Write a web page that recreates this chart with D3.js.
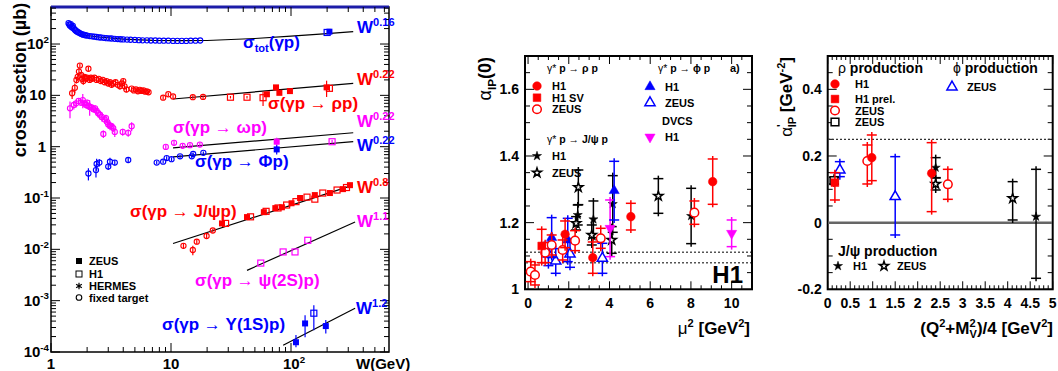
<!DOCTYPE html>
<html><head><meta charset="utf-8">
<script src="https://cdn.jsdelivr.net/npm/d3@7"></script>
<style>body{margin:0;background:#fff;} text{font-family:"Liberation Sans",Arial,Helvetica,sans-serif;}</style>
</head><body><script>
// ---------------- LEFT PANEL DATA (W [GeV], sigma [µb], err) ----------------
const totFT = [[1.40,255],[1.42,240],[1.44,228],[1.46,245],[1.48,218],[1.50,210],[1.52,225],[1.55,200],[1.58,190],[1.61,182],[1.64,176],[1.68,170],[1.72,165],[1.76,160],[1.8,156],[1.85,152],[1.9,150],[1.95,148],[2.0,146],[2.1,143],[2.2,141],[2.3,139],[2.4,137],[2.5,135],[2.6,134],[2.75,132],[2.9,130],[3.05,129],[3.2,128],[3.4,126],[3.6,125],[3.8,124],[4.0,123],[4.3,122],[4.6,121],[5.0,120],[5.4,119],[5.8,118],[6.3,118],[6.8,117],[7.4,117],[8.0,116],[8.7,116],[9.5,116],[10.4,115],[11.3,115],[12.3,115],[13.4,115],[14.6,116],[16,116],[17.5,117]];
const totZEUS = [[209,174]];
const totH1 = [[200,168]];
const totLine = [[1.74,152],[2.5,137],[4,125],[7,118],[12,116],[20,117],[50,128],[100,142],[200,160],[330,174]];

const rhoFT = [[1.50,11,2.5],[1.58,14,3],[1.63,20,3],[1.67,23,4],[1.71,29,5],[1.74,38,4],[1.78,25,3],[1.82,21,3],[1.86,19,3],[1.9,23,3],[1.95,21,2],[2.0,22,2],[2.05,33,3],[2.1,20,2],[2.15,22,2],[2.2,21,2],[2.3,22,2],[2.4,20,2],[2.5,21,2],[2.6,19,2],[2.7,20,2],[2.8,18,2],[2.9,19,2],[3.0,17,2],[3.1,18,2],[3.2,16,2],[3.3,17,2],[3.45,18,2],[3.6,16,2],[3.75,15,2],[3.9,17,2],[4.0,19,2],[4.1,15,2],[4.25,13,1.5],[4.7,13.5,1],[4.9,12.5,1],[5.1,13,1],[5.3,12,1],[5.5,12.8,1],[5.7,12.2,1],[5.9,12.5,1],[6.1,11.8,1],[6.3,12,1],[6.5,11.5,1],[8.6,9.0,0.8],[9.5,10.5,0.8],[10.4,9.5,0.8],[15.2,9.2,0.8],[18.5,9.3,0.8]];
const rhoZEUS = [[63,10.5,0.8],[75,14.3,1],[80,11.2,0.8],[98,12.1,0.8],[198,14.3,5]];
const rhoH1 = [[31.3,9.2,0.5],[43,9.2,0.5],[58.5,9.0,2.8],[209,13.7,1.5]];
const rhoLine = [[10.4,8.5],[330,17.1]];

const omegaFT = [[1.44,5.6,2],[1.55,6.5,1.2],[1.62,7.0,1.2],[1.7,7.8,1],[1.78,7.2,1],[1.84,8.1,2.5],[1.9,7.0,1],[1.96,6.5,1],[2.0,7.2,1],[2.05,6.2,1],[2.1,6.0,2],[2.18,5.8,1],[2.25,5.4,0.8],[2.33,5.6,0.8],[2.4,5.0,0.8],[2.47,4.5,0.8],[2.56,4.2,0.8],[2.65,3.8,0.7],[2.73,1.77,0.3],[2.8,3.4,0.6],[2.87,3.6,0.6],[2.95,3.0,0.5],[3.0,2.7,0.5],[3.1,2.6,0.5],[3.2,2.5,0.4],[3.3,2.3,0.4],[3.4,1.94,0.4],[3.96,1.94,0.3],[4.4,1.86,0.3],[4.7,2.5,0.5],[9.05,0.99,0.1],[10.6,1.19,0.12],[12.5,1.04,0.1],[14.4,1.07,0.1],[17.4,1.1,0.1]];
const omegaZEUS = [[76,1.25,0.25]];
const omegaH1 = [[220,1.25,0.1]];
const omegaLine = [[10.4,0.95],[330,1.87]];

const phiFT = [[2.05,0.30,0.08],[2.37,0.35,0.1],[2.4,0.46,0.12],[2.53,0.49,0.08],[3.0,0.41,0.06],[3.1,0.51,0.1],[3.4,0.49,0.06],[4.4,0.55,0.05],[7.6,0.49,0.04],[8.6,0.51,0.04],[9.2,0.6,0.05],[10.1,0.57,0.05],[11.9,0.65,0.05],[14.9,0.65,0.05],[15.3,0.72,0.05],[18.6,0.76,0.05]];
const phiZEUS = [[76,0.885,0.18]];
const phiLine = [[10.4,0.635],[330,1.25]];

const jpsiFT = [[12.7,0.0117,0.0015],[15.2,0.0097,0.002],[16.4,0.0141,0.0015],[19.8,0.0182,0.002],[22.3,0.0233,0.002]];
const jpsiZEUS = [[26.6,0.032],[43,0.0425],[59.4,0.053],[74,0.0635],[84,0.066],[101,0.079],[119,0.1],[158,0.114],[211,0.125],[271,0.149],[310,0.178]];
const jpsiH1 = [[28.5,0.032],[46,0.043],[62,0.055],[78,0.064],[92,0.073],[110,0.085],[136,0.104],[158,0.095],[184,0.125],[242,0.143],[290,0.16]];
const jpsiLine = [[10.4,0.013],[310,0.17]];

const psi2sH1 = [[56,0.0054],[86,0.0089],[108,0.0089],[138,0.015]];
const psi2sLine = [[43,0.0039],[342,0.034]];

const upsZEUS = [[110,1.55e-4,1.24e-4,2.14e-4],[131,3.6e-4,1.94e-4,5.2e-4],[195,3.2e-4,2.3e-4,4.2e-4]];
const upsH1 = [[155,5.7e-4,2.66e-4,8.1e-4]];
const upsLine = [[86,1.35e-4],[342,7.1e-4]];

const leftYTicks = [[-4,"10","-4"],[-3,"10","-3"],[-2,"10","-2"],[-1,"10","-1"],[0,"1",""],[1,"10",""],[2,"10","2"]];
const leftXTicks = [[0,"1",""],[1,"10",""],[2,"10","2"]];

// ---------------- MIDDLE PANEL DATA (mu^2, alpha(0), err) ----------------
const rhoH1M = [[1.82,1.165,0.04],[3.18,1.095,0.047],[5.05,1.218,0.04],[9.07,1.323,0.068]];
const rhoH1SVM = [[0.67,1.13,0.05]];
const rhoZEUSM = [[0.13,1.053,0.03],[0.34,1.043,0.03],[0.84,1.11,0.03],[1.16,1.133,0.03],[1.7,1.118,0.03],[2.31,1.146,0.03],[3.57,1.153,0.03],[8.17,1.23,0.035]];
const phiH1M = [[1.16,1.155,0.06],[1.95,1.148,0.065],[4.23,1.296,0.088]];
const phiZEUSM = [[1.0,1.106,0.035],[1.36,1.085,0.037],[2.06,1.106,0.04],[3.65,1.093,0.045]];
const jpsiH1M = [[2.44,1.223,0.03],[3.21,1.21,0.055],[4.16,1.256,0.085],[8.01,1.22,0.083]];
const jpsiZEUSM = [[2.47,1.306,0.052],[2.36,1.198,0.02],[3.13,1.163,0.03],[4.11,1.148,0.04],[6.4,1.28,0.052]];
const dvcsH1M = [[4.03,1.183,0.085],[10.0,1.168,0.04]];
const midDotted = [1.08,1.111];
const midXTicks = [0,2,4,6,8,10];
const midYTicks = [1,1.2,1.4,1.6];

// ---------------- RIGHT PANEL DATA (x, alpha', errLo, errHi) ----------------
const rhoH1R = [[0.98,0.195,0.069,0.068],[2.31,0.148,0.115,0.092]];
const rhoH1prelR = [[0.16,0.12,0.052,0.03]];
const rhoZEUSR = [[0.88,0.185,0.069,0.048],[2.67,0.115,0.045,0.045]];
const rhoZEUSsqR = [[0.14,0.126,0.01,0.01]];
const phiZEUSR = [[0.27,0.158,0.02,0.025],[1.5,0.078,0.115,0.12]];
const jpsiH1R = [[2.4,0.165,0.03,0.03],[4.63,0.018,0.185,0.142]];
const jpsiZEUSR = [[2.4,0.116,0.018,0.018],[4.11,0.073,0.065,0.05]];
const rightDotted = [0.25];
const rightXTicks = [0,0.5,1,1.5,2,2.5,3,3.5,4,4.5,5];
const rightYTicks = [-0.2,0,0.2,0.4];

// ====================================================================
const RED="#ff0000", BLUE="#0000ff", MAG="#ff00ff", BLK="#000";
const svg = d3.select("body").append("svg").attr("width",1058).attr("height",371);

function rich(g, x, y, parts, o){
  const t = g.append("text").attr("x",x).attr("y",y).attr("fill",o.color||"#000")
    .attr("font-size",o.size).attr("font-weight",o.weight||"bold")
    .attr("text-anchor",o.anchor||"start");
  if(o.rotate) t.attr("transform",`rotate(${o.rotate},${x},${y})`);
  let cur=0;
  parts.forEach(p=>{
    const s=p[0], k=p[1]||"n", dx=p[2]||0, w=p[3];
    let target=0, fs=o.size;
    if(k==="sup"){target=-o.size*0.42; fs=o.size*0.65;}
    else if(k==="sub"){target=o.size*0.25; fs=o.size*0.65;}
    const ts=t.append("tspan").attr("dy",target-cur).attr("font-size",fs).text(s);
    if(dx) ts.attr("dx",dx);
    if(w) ts.attr("font-weight",w);
    cur=target;
  });
  return t;
}
function sym(type,size){ return d3.symbol().type(type).size(size)(); }

// ---------------- LEFT PANEL ----------------
const L = svg.append("g");
const LX0=51, LX1=389, LY0=7, LY1=352;
const xL = d3.scaleLog().domain([1, Math.pow(10,(LX1-LX0)/120)]).range([LX0,LX1]);
const yL = d3.scaleLog().domain([1e-4, Math.pow(10,2+(44-LY0)/51.3)]).range([LY1,LY0]);

L.append("rect").attr("x",LX0).attr("y",LY0).attr("width",LX1-LX0).attr("height",LY1-LY0)
  .attr("fill","none").attr("stroke","#000").attr("stroke-width",1.5);
L.append("line").attr("x1",LX0).attr("x2",LX1).attr("y1",LY0).attr("y2",LY0).attr("stroke","#1c1ca8").attr("stroke-width",3);

for(let d=-4; d<=2; d++){
  for(let k=1;k<=9;k++){
    const v=k*Math.pow(10,d); if(v>yL.domain()[1]) break;
    const y=yL(v), len=k===1?9:5;
    L.append("line").attr("x1",LX0).attr("x2",LX0+len).attr("y1",y).attr("y2",y).attr("stroke","#000");
    L.append("line").attr("x1",LX1).attr("x2",LX1-len).attr("y1",y).attr("y2",y).attr("stroke","#000");
  }
}
for(let d=0; d<=2; d++){
  for(let k=1;k<=9;k++){
    const v=k*Math.pow(10,d); if(v>xL.domain()[1]) break;
    const x=xL(v), len=k===1?9:5;
    L.append("line").attr("x1",x).attr("x2",x).attr("y1",LY1).attr("y2",LY1-len).attr("stroke","#000");
    L.append("line").attr("x1",x).attr("x2",x).attr("y1",LY0).attr("y2",LY0+len).attr("stroke","#000");
  }
}
leftYTicks.forEach(t=>{
  const y=yL(Math.pow(10,t[0]));
  if(t[2]) rich(L,49,y+5,[[t[1]],[t[2],"sup"]],{size:15,anchor:"end"});
  else rich(L,46,y+5,[[t[1]]],{size:15,anchor:"end"});
});
leftXTicks.forEach(t=>{
  const x=xL(Math.pow(10,t[0]));
  if(t[2]) rich(L,x+3,369,[[t[1]],[t[2],"sup"]],{size:15,anchor:"middle"});
  else rich(L,x,369,[[t[1]]],{size:15,anchor:"middle"});
});
rich(L,356,369,[["W(GeV)"]],{size:15});
rich(L,26,80,[["cross section (µb)"]],{size:18,anchor:"middle",rotate:-90});

const lineL = d3.line().x(d=>xL(d[0])).y(d=>yL(d[1]));
[totLine,rhoLine,omegaLine,phiLine,jpsiLine,psi2sLine,upsLine].forEach(dd=>{
  L.append("path").attr("d",lineL(dd)).attr("fill","none").attr("stroke","#000").attr("stroke-width",1.2);
});

function ptsL(data, color, kind, errFn){
  data.forEach(d=>{
    const x=xL(d[0]), y=yL(d[1]);
    if(errFn){
      const e=errFn(d);
      if(e) L.append("line").attr("x1",x).attr("x2",x).attr("y1",yL(e[0])).attr("y2",yL(e[1])).attr("stroke",color).attr("stroke-width",1.2);
    }
    if(kind==="oc") L.append("circle").attr("cx",x).attr("cy",y).attr("r",2.6).attr("fill","none").attr("stroke",color).attr("stroke-width",1.1);
    else if(kind==="fs") L.append("rect").attr("x",x-3).attr("y",y-3).attr("width",6).attr("height",6).attr("fill",color);
    else if(kind==="os") L.append("rect").attr("x",x-3).attr("y",y-3).attr("width",6).attr("height",6).attr("fill","none").attr("stroke",color).attr("stroke-width",1.2);
  });
}
const e3 = d=>[Math.max(d[1]-d[2],1e-5), d[1]+d[2]];
ptsL(totFT,BLUE,"oc");
ptsL(totH1,BLUE,"os"); ptsL(totZEUS,BLUE,"fs");
ptsL(rhoFT,RED,"oc",e3); ptsL(rhoH1,RED,"os",e3); ptsL(rhoZEUS,RED,"fs",e3);
ptsL(omegaFT,MAG,"oc",e3); ptsL(omegaH1,MAG,"os",e3); ptsL(omegaZEUS,MAG,"fs",e3);
ptsL(phiFT,BLUE,"oc",e3); ptsL(phiZEUS,BLUE,"fs",e3);
ptsL(jpsiFT,RED,"oc",e3); ptsL(jpsiH1,RED,"os"); ptsL(jpsiZEUS,RED,"fs");
ptsL(psi2sH1,MAG,"os");
const e4 = d=>[d[2],d[3]];
ptsL(upsZEUS,BLUE,"fs",e4); ptsL(upsH1,BLUE,"os",e4);

rich(L,357,33,[["W"],["0.16","sup"]],{size:17,color:BLUE});
rich(L,243,48,[["σ"],["tot","sub"],["(γp)"]],{size:17,color:BLUE});
rich(L,357,85,[["W"],["0.22","sup"]],{size:17,color:RED});
rich(L,268,109,[["σ(γp → ρp)"]],{size:17,color:RED});
rich(L,357,127,[["W"],["0.22","sup"]],{size:17,color:MAG});
rich(L,173,133,[["σ(γp → ωp)"]],{size:17,color:MAG});
rich(L,357,151,[["W"],["0.22","sup"]],{size:17,color:BLUE});
rich(L,195,167,[["σ(γp → Φp)"]],{size:17,color:BLUE});
rich(L,357,193,[["W"],["0.8","sup"]],{size:17,color:RED});
rich(L,130,217,[["σ(γp → J/ψp)"]],{size:17,color:RED});
rich(L,357,227,[["W"],["1.1","sup"]],{size:17,color:MAG});
rich(L,195,286,[["σ(γp → ψ(2S)p)"]],{size:17,color:MAG});
rich(L,356,314,[["W"],["1.2","sup"]],{size:17,color:BLUE});
rich(L,162,330,[["σ(γp → Υ(1S)p)"]],{size:17,color:BLUE});

L.append("rect").attr("x",76).attr("y",258).attr("width",6).attr("height",6).attr("fill","#000");
L.append("rect").attr("x",76).attr("y",271).attr("width",6).attr("height",6).attr("fill","none").attr("stroke","#000");
L.append("path").attr("d",sym(d3.symbolAsterisk,30)).attr("transform","translate(79,286)").attr("stroke","#000").attr("fill","none").attr("stroke-width",1.2);
L.append("circle").attr("cx",79).attr("cy",297.5).attr("r",2.8).attr("fill","none").attr("stroke","#000").attr("stroke-width",1.1);
[["ZEUS",265],["H1",278],["HERMES",290],["fixed target",301.5]].forEach(t=>rich(L,89,t[1],[[t[0]]],{size:11}));

// ---------------- generic linear panel ----------------
function panel(o){
  const g=svg.append("g");
  const x=d3.scaleLinear().domain(o.xd).range([o.x0,o.x1]);
  const y=d3.scaleLinear().domain(o.yd).range([o.y1,o.y0]);
  const xt=d3.range(Math.ceil(o.xd[0]/o.xminor-1e-9)*o.xminor, o.xd[1]+1e-9, o.xminor);
  xt.forEach(v=>{
    const maj=Math.abs(v/o.xmajor-Math.round(v/o.xmajor))<1e-6, len=maj?8:4, X=x(v);
    g.append("line").attr("x1",X).attr("x2",X).attr("y1",o.y1).attr("y2",o.y1-len).attr("stroke","#000");
    g.append("line").attr("x1",X).attr("x2",X).attr("y1",o.y0).attr("y2",o.y0+len).attr("stroke","#000");
  });
  const yt=d3.range(Math.ceil(o.yd[0]/o.yminor-1e-9)*o.yminor, o.yd[1]+1e-9, o.yminor);
  yt.forEach(v=>{
    const maj=Math.abs(v/o.ymajor-Math.round(v/o.ymajor))<1e-6, len=maj?9:5, Y=y(v);
    g.append("line").attr("x1",o.x0).attr("x2",o.x0+len).attr("y1",Y).attr("y2",Y).attr("stroke","#000");
    g.append("line").attr("x1",o.x1).attr("x2",o.x1-len).attr("y1",Y).attr("y2",Y).attr("stroke","#000");
  });
  o.xlabels.forEach(v=>g.append("text").attr("x",x(v)).attr("y",o.y1+19).attr("text-anchor","middle")
     .attr("font-size",14).attr("font-weight","bold").text(String(v)));
  o.ylabels.forEach(v=>g.append("text").attr("x",o.x0-6).attr("y",y(v)+5).attr("text-anchor","end")
     .attr("font-size",14).attr("font-weight","bold").text(String(v)));
  g.append("rect").attr("x",o.x0).attr("y",o.y0).attr("width",o.x1-o.x0).attr("height",o.y1-o.y0)
    .attr("fill","none").attr("stroke","#000").attr("stroke-width",2);
  return {g,x,y};
}
function errPt(P, X, Ylo, Yhi, color){
  const xs=P.x(X), a=P.y(Ylo), b=P.y(Yhi);
  P.g.append("line").attr("x1",xs).attr("x2",xs).attr("y1",a+3).attr("y2",b-3).attr("stroke",color).attr("stroke-width",1.5);
  [a,b].forEach(yy=>P.g.append("line").attr("x1",xs-5).attr("x2",xs+5).attr("y1",yy).attr("y2",yy).attr("stroke",color).attr("stroke-width",1.5));
}
function marker(g, X, Y, kind, color){
  const map={circle:[d3.symbolCircle,58],square:[d3.symbolSquare,60],tri:[d3.symbolTriangle,45],star:[d3.symbolStar,26]};
  const m=map[kind.type];
  const p=g.append("path").attr("d",sym(m[0],m[1])).attr("transform",`translate(${X},${Y})`+(kind.down?" rotate(180)":""));
  if(kind.open) p.attr("fill","#fff").attr("stroke",color).attr("stroke-width",1.5);
  else p.attr("fill",color).attr("stroke",color).attr("stroke-width",0.5);
  return p;
}

// ---------------- MIDDLE PANEL ----------------
const M = panel({x0:525,x1:752,y0:56,y1:289.3,xd:[-0.15,11],yd:[1,1.7],xminor:0.5,xmajor:2,yminor:0.05,ymajor:0.2,xlabels:midXTicks,ylabels:midYTicks});
midDotted.forEach(v=>M.g.append("line").attr("x1",526).attr("x2",751).attr("y1",M.y(v)).attr("y2",M.y(v))
  .attr("stroke","#555").attr("stroke-width",1.5).attr("stroke-dasharray","2,2"));
function seriesM(data,color,kind){
  data.forEach(d=>errPt(M,d[0],d[1]-d[2],d[1]+d[2],color));
  data.forEach(d=>marker(M.g,M.x(d[0]),M.y(d[1]),kind,color));
}
seriesM(jpsiH1M,BLK,{type:"star"});
seriesM(jpsiZEUSM,BLK,{type:"star",open:true});
seriesM(dvcsH1M,MAG,{type:"tri",down:true});
seriesM(phiZEUSM,BLUE,{type:"tri",open:true});
seriesM(phiH1M,BLUE,{type:"tri"});
seriesM(rhoZEUSM,RED,{type:"circle",open:true});
seriesM(rhoH1SVM,RED,{type:"square"});
seriesM(rhoH1M,RED,{type:"circle"});
rich(M.g,547,72,[["γ* ",,,"normal"],["p → ρ p"]],{size:10.5});
marker(M.g,537,86,{type:"circle"},RED); rich(M.g,552,90,[["H1"]],{size:11});
marker(M.g,537,97.7,{type:"square"},RED); rich(M.g,552,101.7,[["H1 SV"]],{size:11});
marker(M.g,537,109.3,{type:"circle",open:true},RED); rich(M.g,552,113.3,[["ZEUS"]],{size:11});
rich(M.g,547,143,[["γ* ",,,"normal"],["p → J/ψ p"]],{size:10.5});
marker(M.g,537,156,{type:"star"},BLK); rich(M.g,552,160,[["H1"]],{size:11});
marker(M.g,537,172.7,{type:"star",open:true},BLK); rich(M.g,552,177,[["ZEUS"]],{size:11});
rich(M.g,658,72,[["γ* ",,,"normal"],["p → ϕ p"]],{size:10.5});
rich(M.g,730,72,[["a)"]],{size:11});
marker(M.g,650,86.7,{type:"tri"},BLUE); rich(M.g,665,91,[["H1"]],{size:11});
marker(M.g,650,102.7,{type:"tri",open:true},BLUE); rich(M.g,665,107,[["ZEUS"]],{size:11});
rich(M.g,662,125,[["DVCS"]],{size:11});
marker(M.g,650,137,{type:"tri",down:true},MAG); rich(M.g,665,141,[["H1"]],{size:11});
rich(M.g,743,283,[["H1"]],{size:24,anchor:"end"});
rich(M.g,491,57,[["α",,,"normal"],["IP","sub"],["(0)"]],{size:18,anchor:"end",rotate:-90});
rich(M.g,750,334,[["μ",,,"normal"],["2","sup"],[" [GeV"],["2","sup"],["]"]],{size:17,anchor:"end"});

// ---------------- RIGHT PANEL ----------------
const R = panel({x0:827.7,x1:1052.7,y0:56,y1:289.3,xd:[0,5],yd:[-0.2,0.5],xminor:0.1,xmajor:0.5,yminor:0.05,ymajor:0.2,xlabels:rightXTicks,ylabels:rightYTicks});
R.g.append("line").attr("x1",828).attr("x2",1052).attr("y1",R.y(0)).attr("y2",R.y(0)).attr("stroke","#666").attr("stroke-width",2.5);
rightDotted.forEach(v=>R.g.append("line").attr("x1",828).attr("x2",1052).attr("y1",R.y(v)).attr("y2",R.y(v))
  .attr("stroke","#333").attr("stroke-width",1.2).attr("stroke-dasharray","2,2"));
function seriesR(data,color,kind){
  data.forEach(d=>errPt(R,d[0],d[1]-d[2],d[1]+d[3],color));
  data.forEach(d=>marker(R.g,R.x(d[0]),R.y(d[1]),kind,color));
}
seriesR(jpsiH1R,BLK,{type:"star"});
seriesR(jpsiZEUSR,BLK,{type:"star",open:true});
seriesR(phiZEUSR,BLUE,{type:"tri",open:true});
seriesR(rhoZEUSsqR,BLK,{type:"square",open:true});
seriesR(rhoH1prelR,RED,{type:"square"});
seriesR(rhoZEUSR,RED,{type:"circle",open:true});
seriesR(rhoH1R,RED,{type:"circle"});
rich(R.g,838,73,[["ρ ",,,"normal"],["production"]],{size:14});
marker(R.g,835,84,{type:"circle"},RED); rich(R.g,855,88,[["H1"]],{size:11});
marker(R.g,835,99,{type:"square"},RED); rich(R.g,855,103,[["H1 prel."]],{size:11});
marker(R.g,835,110.5,{type:"circle",open:true},RED); rich(R.g,855,114.5,[["ZEUS"]],{size:11});
marker(R.g,835,122,{type:"square",open:true},BLK); rich(R.g,855,126,[["ZEUS"]],{size:11});
rich(R.g,953,73,[["ϕ ",,,"normal"],["production"]],{size:14});
marker(R.g,952,87,{type:"tri",open:true},BLUE); rich(R.g,967,91,[["ZEUS"]],{size:11});
rich(R.g,838,256,[["J/ψ production"]],{size:14});
marker(R.g,838,266,{type:"star"},BLK); rich(R.g,853,270,[["H1"]],{size:11});
marker(R.g,884,266,{type:"star",open:true},BLK); rich(R.g,897,270,[["ZEUS"]],{size:11});
rich(R.g,792,57,[["α",,,"normal"],["'","sup"],["IP","sub",-3],[" [GeV"],["-2","sup"],["]"]],{size:17,anchor:"end",rotate:-90});
rich(R.g,1053,334,[["(Q"],["2","sup"],["+M"],["2","sup"],["V","sub",-6],[")/4 [GeV"],["2","sup"],["]"]],{size:17,anchor:"end"});
</script></body></html>
